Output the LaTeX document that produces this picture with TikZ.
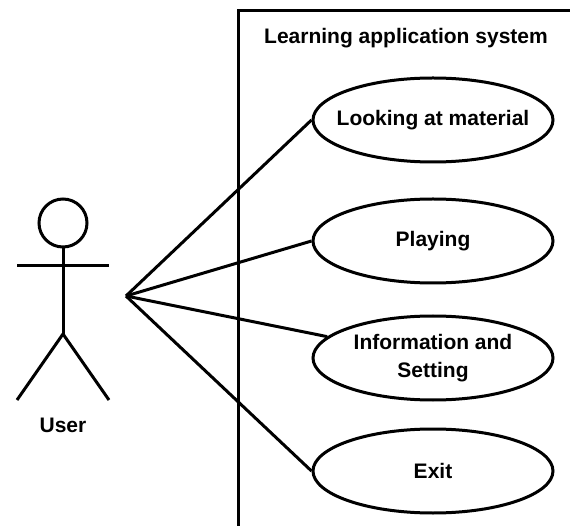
\documentclass[tikz,border=0pt]{standalone}
\usepackage{fontspec}
\setmainfont{Liberation Sans}
\usetikzlibrary{shapes.geometric}
\begin{document}
\begin{tikzpicture}[x=1pt,y=-1pt,
  line/.style={line width=3pt},
  usecase/.style={ellipse,draw,line width=3pt,minimum width=240pt,minimum height=84pt,inner xsep=-20pt,inner ysep=0pt,align=center,font=\fontsize{21}{28}\selectfont\bfseries},
  label/.style={font=\fontsize{21}{28}\selectfont\bfseries,inner sep=0pt}]
\useasboundingbox (0,0) rectangle (570,526);
% system boundary
\draw[line] (238,530) -- (238,11) -- (575,11);
\node[label] (title) at (406,38) {Learning application system};
% use cases
\node[usecase] (uc1) at (433,120) {Looking at material};
\node[usecase] (uc2) at (433,241) {Playing};
\node[usecase] (uc3) at (433,358) {Information and\\Setting};
\node[usecase] (uc4) at (433,471) {Exit};
% actor
\draw[line] (63,223) circle (24);
\draw[line] (63,247) -- (63,334);
\draw[line] (17,266) -- (109,266);
\draw[line] (17,400) -- (63,334) -- (109,400);
\node[label] (user) at (63,425) {User};
\coordinate (hub) at (126,296);
% associations
\draw[line] (hub) -- (uc1.west);
\draw[line] (hub) -- (uc2.west);
\draw[line] (hub) -- (uc3);
\draw[line] (hub) -- (uc4.west);
\end{tikzpicture}
\end{document}
